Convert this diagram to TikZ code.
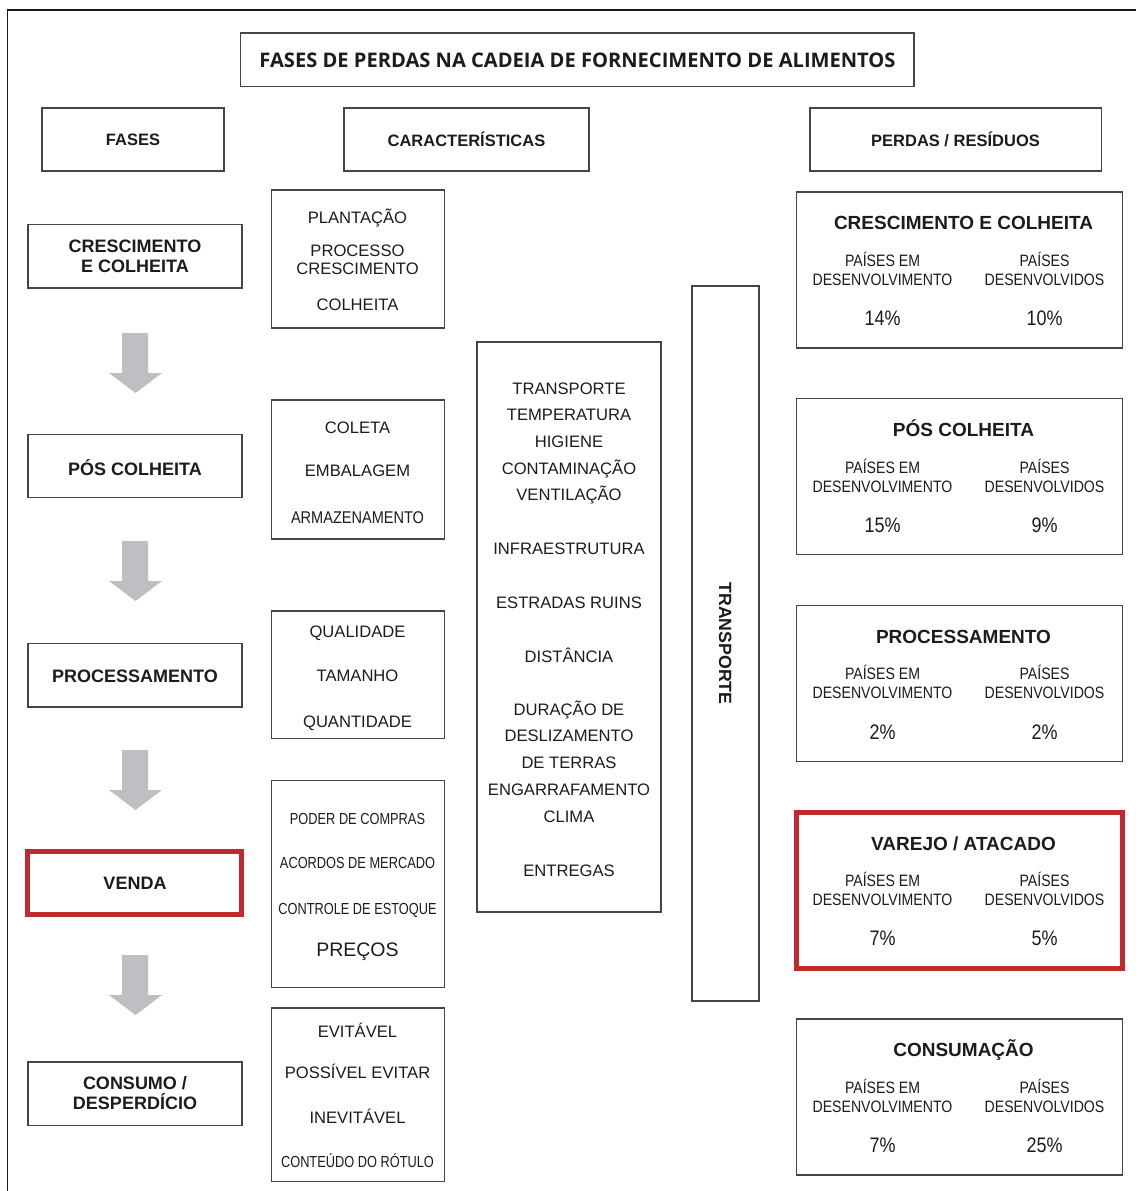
\documentclass[tikz,border=0pt]{standalone}
\usepackage{fontspec}
\setmainfont{Liberation Sans}
\newfontfamily\narrowA[FakeStretch=0.8]{Liberation Sans}
\newfontfamily\narrowB[FakeStretch=0.855]{Liberation Sans}
\newfontfamily\titlefont{Open Sans}
\usetikzlibrary{fit}
\definecolor{ink}{HTML}{1C1C1C}
\definecolor{edge}{HTML}{454545}
\definecolor{alert}{HTML}{BF2A30}
\definecolor{arrowgray}{HTML}{BEBFC3}

% one loss box: index, border style, title, developing %, developed %
\newcommand\lossbox[5]{%
  \pgfmathsetmacro\T{192+206.75*#1}
  \node[#2, fit={(796.5,\T) (1122.5,\T+156)}] (loss#1) {};
  \node[loss] (loss#1t) at (963.5,\T+31) {#3};
  \node[region] (loss#1da) at (882.5,\T+68.5) {PAÍSES EM};
  \node[region] (loss#1db) at (882.5,\T+87.5) {DESENVOLVIMENTO};
  \node[region] (loss#1ea) at (1044.5,\T+68.5) {PAÍSES};
  \node[region] (loss#1eb) at (1044.5,\T+87.5) {DESENVOLVIDOS};
  \node[pct] (loss#1dp) at (882.5,\T+126) {#4\%};
  \node[pct] (loss#1ep) at (1044.5,\T+126) {#5\%};
}

\begin{document}
\begin{tikzpicture}[x=1pt,y=-1pt,
  frame/.style={draw=edge, line width=1.4pt, inner sep=0pt},
  hot/.style={draw=alert, line width=5pt, inner sep=0pt},
  lbl/.style={inner sep=0pt, text=ink, text depth=0pt},
  title/.style={lbl, font=\titlefont\bfseries\fontsize{20.1}{24}\selectfont, text height=14.3pt},
  head/.style={lbl, font=\bfseries\fontsize{16.5}{19}\selectfont, text height=11.8pt},
  phase/.style={lbl, font=\bfseries\fontsize{18}{21}\selectfont, text height=12.9pt},
  item/.style={lbl, font=\fontsize{16.6}{19}\selectfont, text height=11.9pt},
  small/.style={lbl, font=\narrowB\fontsize{17}{19}\selectfont, text height=12.2pt},
  big/.style={lbl, font=\fontsize{19.5}{22}\selectfont, text height=14pt},
  cond/.style={lbl, font=\narrowA\fontsize{16}{19}\selectfont, text height=11.5pt},
  loss/.style={lbl, font=\bfseries\fontsize{19}{22}\selectfont, text height=13.6pt},
  region/.style={lbl, font=\narrowB\fontsize{16.5}{19}\selectfont, text height=11.8pt},
  pct/.style={lbl, font=\narrowB\fontsize{21}{24}\selectfont, text height=15pt},
  vert/.style={lbl, font=\bfseries\fontsize{17.7}{20}\selectfont, text height=12.7pt, rotate=-90},
  flow/.style={fill=arrowgray},
]
\useasboundingbox (0,0) rectangle (1135,1191);
\fill[white] (0,0) rectangle (1135,1191);

% outer frame (open to the right and bottom)
\draw[draw=ink, line width=1.3pt] (7.5,1195) -- (7.5,10) -- (1140,10);

% title and column headers
\node[frame, fit={(240.5,33) (914,86.5)}] (titlebox) {};
\node[title] (titletext) at (577.5,60) {FASES DE PERDAS NA CADEIA DE FORNECIMENTO DE ALIMENTOS};
\node[frame, fit={(42,108) (224,171)}] (hfases) {};
\node[head] at (hfases.center) (hfasest) {FASES};
\node[frame, fit={(344,108) (589,171)}] (hcar) {};
\node[head] (hcart) at (466.5,141) {CARACTERÍSTICAS};
\node[frame, fit={(810,108) (1101.5,171)}] (hper) {};
\node[head] (hpert) at (955.5,141) {PERDAS / RESÍDUOS};

% phases
\node[frame, fit={(28,224.5) (242,288)}] (ph1) {};
\node[phase] (ph1a) at (135,246.5) {CRESCIMENTO};
\node[phase] (ph1b) at (135,266.5) {E COLHEITA};
\node[frame, fit={(28,434.5) (242,497.5)}] (ph2) {};
\node[phase] (ph2a) at (135,469) {PÓS COLHEITA};
\node[frame, fit={(28,643.5) (242,707)}] (ph3) {};
\node[phase] (ph3a) at (135,676) {PROCESSAMENTO};
\node[hot, fit={(27.5,851.5) (241.5,914.5)}] (ph4) {};
\node[phase] (ph4a) at (135,883.5) {VENDA};
\node[frame, fit={(28,1062) (242,1125.5)}] (ph5) {};
\node[phase] (ph5a) at (135,1083.5) {CONSUMO /};
\node[phase] (ph5b) at (135,1103.5) {DESPERDÍCIO};

% grey flow arrows between phases
\foreach \t in {333,541,750,955}
  \fill[flow] (122,\t) -- (148,\t) -- (148,\t+40) -- (162,\t+40) -- (135.5,\t+60)
              -- (109,\t+40) -- (122,\t+40) -- cycle;

% characteristics per phase
\node[frame, fit={(271.5,190) (444.5,328)}] (c1) {};
\node[item] (c1a) at (357.5,217.5) {PLANTAÇÃO};
\node[item] (c1b) at (357.5,251) {PROCESSO};
\node[item] (c1c) at (357.5,268.5) {CRESCIMENTO};
\node[item] (c1d) at (357.5,304.5) {COLHEITA};

\node[frame, fit={(271.5,400) (444.5,539)}] (c2) {};
\node[item] (c2a) at (357.5,428) {COLETA};
\node[item] (c2b) at (357.5,471) {EMBALAGEM};
\node[small] (c2c) at (357.5,517) {ARMAZENAMENTO};

\node[frame, fit={(271.5,611) (444.5,738.5)}] (c3) {};
\node[item] (c3a) at (357.5,632) {QUALIDADE};
\node[item] (c3b) at (357.5,675.5) {TAMANHO};
\node[item] (c3c) at (357.5,722) {QUANTIDADE};

\node[frame, fit={(271.5,780.5) (444.5,987.5)}] (c4) {};
\node[cond] (c4a) at (357.5,818.5) {PODER DE COMPRAS};
\node[cond] (c4b) at (357.5,863) {ACORDOS DE MERCADO};
\node[cond] (c4c) at (357.5,908.5) {CONTROLE DE ESTOQUE};
\node[big] (c4d) at (357.5,949) {PREÇOS};

\node[frame, fit={(271.5,1008) (444.5,1181.5)}] (c5) {};
\node[item] (c5a) at (357.5,1032) {EVITÁVEL};
\node[item] (c5b) at (357.5,1073) {POSSÍVEL EVITAR};
\node[item] (c5c) at (357.5,1117.5) {INEVITÁVEL};
\node[cond] (c5d) at (357.5,1162) {CONTEÚDO DO RÓTULO};

% transport factors
\node[frame, fit={(477,342) (661,912)}] (tr) {};
\foreach \txt/\y [count=\k] in {TRANSPORTE/389, TEMPERATURA/415, HIGIENE/441.5,
    CONTAMINAÇÃO/468.5, VENTILAÇÃO/495, INFRAESTRUTURA/549, ESTRADAS RUINS/603,
    DISTÂNCIA/657, DURAÇÃO DE/710, DESLIZAMENTO/736, DE TERRAS/763,
    ENGARRAFAMENTO/790, CLIMA/817, ENTREGAS/870.5}
  \node[item] (tr\k) at (569,\y) {\txt};

% transport band
\node[frame, fit={(692,286) (759,1001)}] (band) {};
\node[vert] (bandt) at (band.center) {TRANSPORTE};

% losses and waste shares
\lossbox{0}{frame}{CRESCIMENTO E COLHEITA}{14}{10}
\lossbox{1}{frame}{PÓS COLHEITA}{15}{9}
\lossbox{2}{frame}{PROCESSAMENTO}{2}{2}
\lossbox{3}{hot}{VAREJO / ATACADO}{7}{5}
\lossbox{4}{frame}{CONSUMAÇÃO}{7}{25}
\end{tikzpicture}
\end{document}
